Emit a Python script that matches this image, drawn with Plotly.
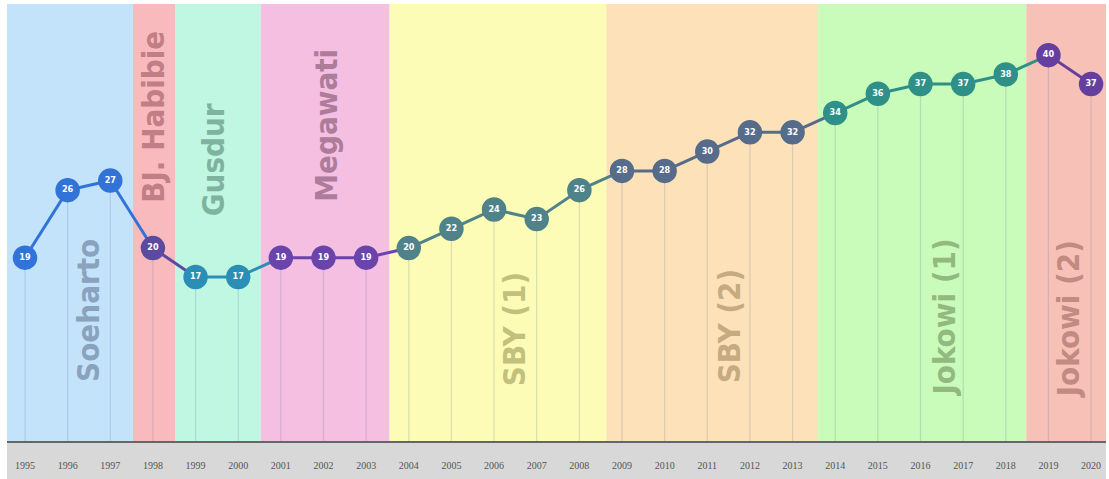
import plotly.graph_objects as go

years = list(range(1995, 2021))
values = [19, 26, 27, 20, 17, 17, 19, 19, 19, 20, 22, 24, 23, 26, 28, 28, 30, 32, 32, 34, 36, 37, 37, 38, 40, 37]

eras = ["Soeharto", "BJ. Habibie", "Gusdur", "Megawati", "SBY (1)", "SBY (2)", "Jokowi (1)", "Jokowi (2)"]
era_start = [1994.57, 1997.53, 1998.53, 2000.53, 2003.55, 2008.63, 2013.6, 2018.48]
era_end = [1997.53, 1998.53, 2000.53, 2003.55, 2008.63, 2013.6, 2018.48, 2020.45]
era_label_x = [1996.48, 1998.0, 1999.41, 2002.04, 2006.47, 2011.51, 2016.53, 2019.48]
era_label_y = [13.5, 33.6, 29.1, 32.7, 11.6, 11.9, 12.8, 12.6]

band_colors = ["#c3e3fb", "#f9babd", "#c0f7e2", "#f5bfe1", "#fdfcb6", "#fde2b9", "#c9fbba", "#f7c1b7"]
label_colors = ["#8aa2bd", "#c27e86", "#7fb39f", "#ad7c9b", "#c3c07e", "#c7ab80", "#92b980", "#c18a82"]
point_colors = ["#3273d8", "#5a4aa0", "#2b8fb5", "#6a43ab", "#4f8289", "#566c8a", "#2f9088", "#663f9e"]

LABEL_FONT = "DejaVu Sans Condensed, Liberation Sans Narrow, sans-serif"

def era_index(yr):
    for i, (s, e) in enumerate(zip(era_start, era_end)):
        if s <= yr < e:
            return i
    return len(eras) - 1

pt_col = [point_colors[era_index(y)] for y in years]

fig = go.Figure()

# bands
for i in range(len(eras)):
    fig.add_shape(type="rect", xref="x", yref="paper", x0=era_start[i], x1=era_end[i], y0=0, y1=1,
                  fillcolor=band_colors[i], line_width=0, layer="below")

# bottom gray strip
fig.add_shape(type="rect", xref="paper", yref="paper", x0=0, x1=1, y0=-0.1, y1=0,
              fillcolor="#d8d8d8", line_width=0, layer="below")

# drop lines
dx, dy = [], []
for y, v in zip(years, values):
    dx += [y, y, None]
    dy += [0, v, None]
fig.add_trace(go.Scatter(x=dx, y=dy, mode="lines", line=dict(color="rgba(110,130,160,0.25)", width=1.2),
                         hoverinfo="skip", showlegend=False))

# era labels
for i in range(len(eras)):
    fig.add_annotation(x=era_label_x[i], y=era_label_y[i], text="<b>" + eras[i] + "</b>",
                       textangle=-90, showarrow=False,
                       font=dict(family=LABEL_FONT, size=31, color=label_colors[i]),
                       xref="x", yref="y")

# line segments
for i in range(len(years) - 1):
    fig.add_trace(go.Scatter(x=years[i:i + 2], y=values[i:i + 2], mode="lines",
                             line=dict(color=pt_col[i], width=3), hoverinfo="skip", showlegend=False))

# markers
fig.add_trace(go.Scatter(x=years, y=values, mode="markers+text", text=["<b>%d</b>" % v for v in values],
                         textposition="middle center",
                         textfont=dict(family=LABEL_FONT, size=9, color="white"),
                         marker=dict(size=23, color=pt_col, line=dict(color=pt_col, width=1.5)),
                         showlegend=False))

fig.update_xaxes(range=[1994.578, 2020.35], tickmode="array", tickvals=years, ticktext=[str(y) for y in years],
                 showgrid=False, zeroline=False, showline=True, linecolor="#666666", linewidth=2,
                 ticks="outside", ticklen=14, tickcolor="rgba(0,0,0,0)",
                 tickfont=dict(family="Liberation Serif, serif", size=10, color="#555555"))
fig.update_yaxes(range=[0, 45.3], showgrid=False, zeroline=False, showticklabels=False, showline=False)

fig.update_layout(width=1109, height=479, margin=dict(l=7, r=3, t=4, b=38),
                  paper_bgcolor="white", plot_bgcolor="white")

fig.write_html("out.html")
